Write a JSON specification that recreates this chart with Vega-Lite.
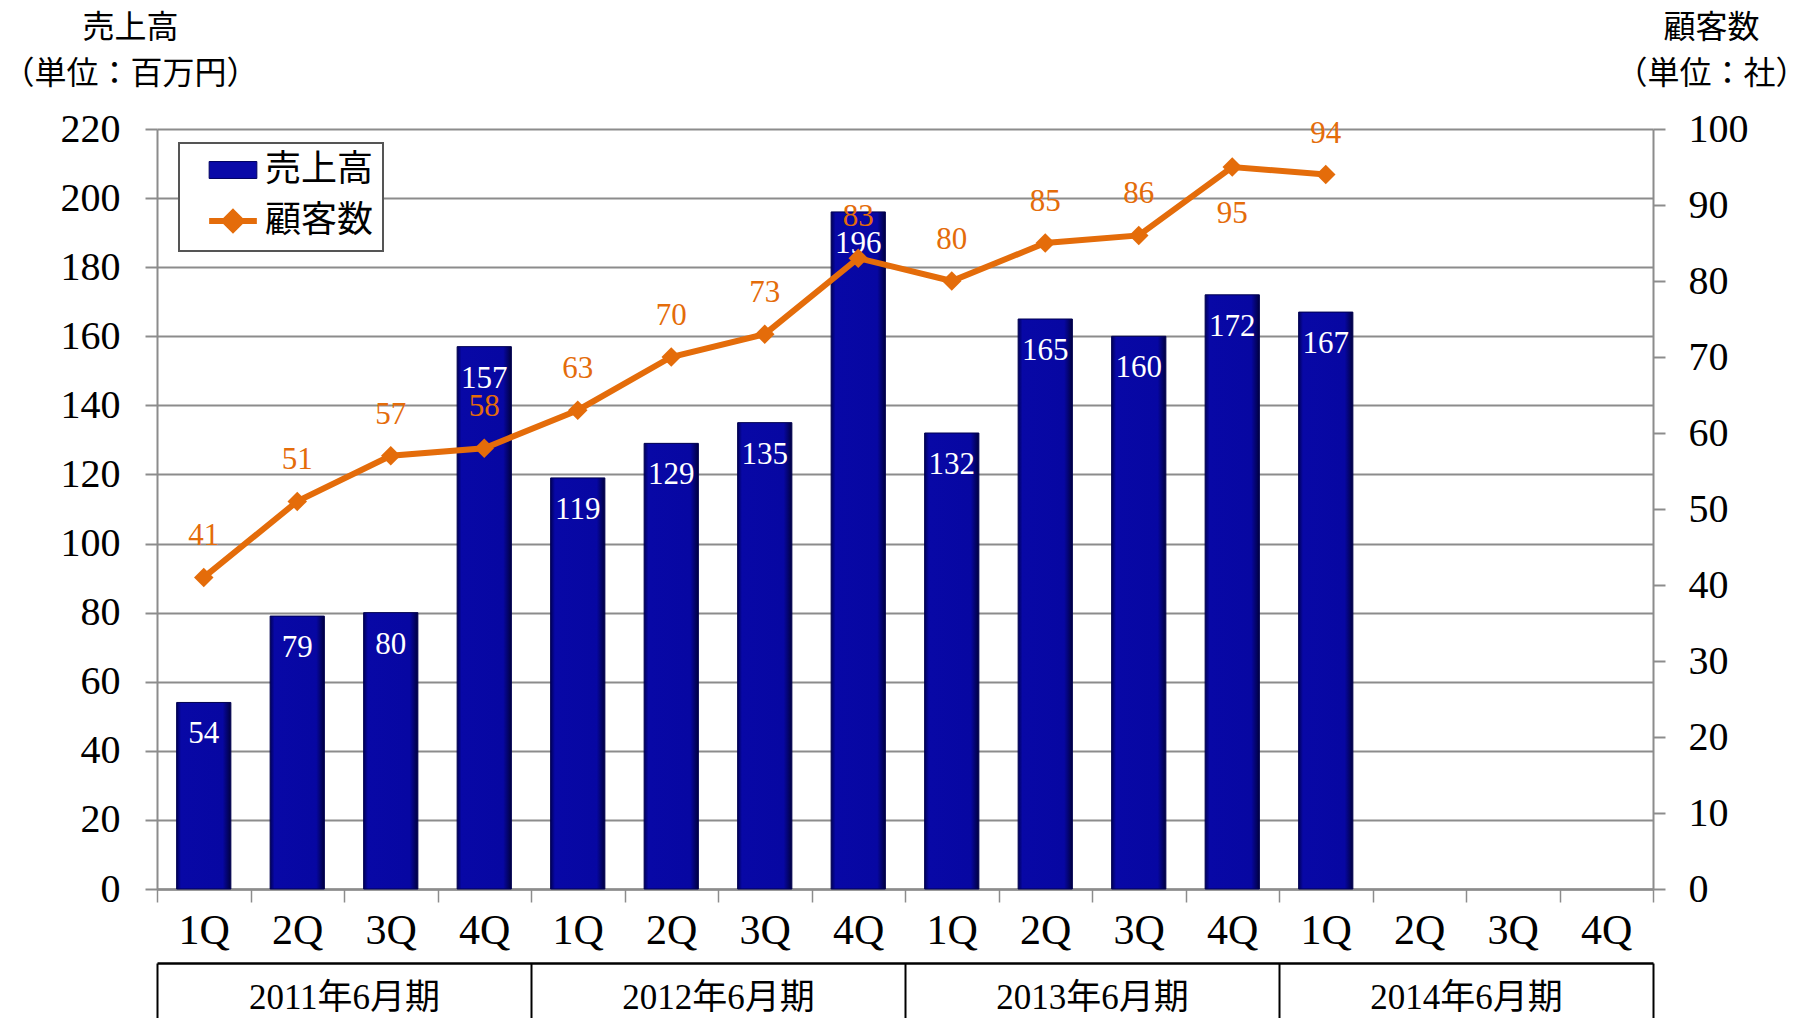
{
  "$schema": "https://vega.github.io/schema/vega-lite/v6.json",
  "width": 1496,
  "height": 760,
  "autosize": "none",
  "padding": {"left": 157, "top": 129, "right": 155, "bottom": 129},
  "background": "white",
  "config": {
    "view": {"stroke": null},
    "font": "Liberation Serif, Noto Sans CJK JP",
    "axis": {"labelFont": "Liberation Serif, Noto Sans CJK JP", "titleFont": "Liberation Serif, Noto Sans CJK JP"}
  },
  "data": {
    "values": [
      {"key": "2011-1Q", "period": "2011年6月期", "q": "1Q", "sales": 54, "customers": 41},
      {"key": "2011-2Q", "period": "2011年6月期", "q": "2Q", "sales": 79, "customers": 51},
      {"key": "2011-3Q", "period": "2011年6月期", "q": "3Q", "sales": 80, "customers": 57},
      {"key": "2011-4Q", "period": "2011年6月期", "q": "4Q", "sales": 157, "customers": 58},
      {"key": "2012-1Q", "period": "2012年6月期", "q": "1Q", "sales": 119, "customers": 63},
      {"key": "2012-2Q", "period": "2012年6月期", "q": "2Q", "sales": 129, "customers": 70},
      {"key": "2012-3Q", "period": "2012年6月期", "q": "3Q", "sales": 135, "customers": 73},
      {"key": "2012-4Q", "period": "2012年6月期", "q": "4Q", "sales": 196, "customers": 83},
      {"key": "2013-1Q", "period": "2013年6月期", "q": "1Q", "sales": 132, "customers": 80},
      {"key": "2013-2Q", "period": "2013年6月期", "q": "2Q", "sales": 165, "customers": 85},
      {"key": "2013-3Q", "period": "2013年6月期", "q": "3Q", "sales": 160, "customers": 86},
      {"key": "2013-4Q", "period": "2013年6月期", "q": "4Q", "sales": 172, "customers": 95},
      {"key": "2014-1Q", "period": "2014年6月期", "q": "1Q", "sales": 167, "customers": 94},
      {"key": "2014-2Q", "period": "2014年6月期", "q": "2Q", "sales": null, "customers": null},
      {"key": "2014-3Q", "period": "2014年6月期", "q": "3Q", "sales": null, "customers": null},
      {"key": "2014-4Q", "period": "2014年6月期", "q": "4Q", "sales": null, "customers": null}
    ]
  },
  "layer": [
    {
      "encoding": {
        "x": {
          "field": "key",
          "type": "nominal",
          "scale": {
            "type": "band",
            "domain": ["2011-1Q","2011-2Q","2011-3Q","2011-4Q","2012-1Q","2012-2Q","2012-3Q","2012-4Q","2013-1Q","2013-2Q","2013-3Q","2013-4Q","2014-1Q","2014-2Q","2014-3Q","2014-4Q"],
            "paddingInner": 0,
            "paddingOuter": 0
          },
          "axis": {
            "title": null,
            "labelExpr": "datum.value ? substring(datum.value, 5) : ''",
            "labelAngle": 0,
            "labelFontSize": 42,
            "labelColor": "black",
            "labelPadding": 8,
            "domainColor": "#8c8c8c",
            "domainWidth": 2.5,
            "tickColor": "#8c8c8c",
            "tickWidth": 1.5,
            "tickSize": 13,
            "tickBand": "extent",
            "grid": false
          }
        }
      },
      "layer": [
        {
          "encoding": {
            "y": {
              "field": "sales",
              "type": "quantitative",
              "scale": {"domain": [0, 220], "nice": false},
              "axis": {
                "orient": "left",
                "values": [0,20,40,60,80,100,120,140,160,180,200,220],
                "labelFontSize": 40,
                "labelColor": "black",
                "labelPadding": 25,
                "domainColor": "#8c8c8c",
                "domainWidth": 2,
                "tickColor": "#8c8c8c",
                "tickWidth": 2,
                "tickSize": 12,
                "grid": true,
                "gridColor": "#8c8c8c",
                "gridWidth": 2,
                "title": ["売上高", "（単位：百万円）"],
                "titleAngle": 0,
                "titleAlign": "center",
                "titleBaseline": "top",
                "titleX": -27,
                "titleY": -117,
                "titleFontSize": 32,
                "titleFontWeight": "normal",
                "titleColor": "black",
                "titleLineHeight": 46
              }
            }
          },
          "layer": [
            {
              "mark": {
                "type": "bar",
                "width": {"band": 0.58},
                "color": {
                  "gradient": "linear",
                  "x1": 0, "y1": 0, "x2": 1, "y2": 0,
                  "stops": [
                    {"offset": 0, "color": "#00005a"},
                    {"offset": 0.08, "color": "#0808a6"},
                    {"offset": 0.85, "color": "#0707a2"},
                    {"offset": 1, "color": "#000040"}
                  ]
                },
                "stroke": "#000050",
                "strokeWidth": 1
              }
            },
            {
              "mark": {"type": "text", "color": "white", "fontSize": 31, "baseline": "middle", "dy": 32},
              "encoding": {"text": {"field": "sales", "type": "quantitative"}}
            }
          ]
        },
        {
          "encoding": {
            "y": {
              "field": "customers",
              "type": "quantitative",
              "scale": {"domain": [0, 100], "nice": false},
              "axis": {
                "orient": "right",
                "values": [0,10,20,30,40,50,60,70,80,90,100],
                "labelFontSize": 40,
                "labelColor": "black",
                "labelPadding": 23,
                "domainColor": "#8c8c8c",
                "domainWidth": 2,
                "tickColor": "#8c8c8c",
                "tickWidth": 2,
                "tickSize": 12,
                "grid": false,
                "title": ["顧客数", "（単位：社）"],
                "titleAngle": 0,
                "titleAlign": "center",
                "titleBaseline": "top",
                "titleX": 58,
                "titleY": -117,
                "titleFontSize": 32,
                "titleFontWeight": "normal",
                "titleColor": "black",
                "titleLineHeight": 46
              }
            }
          },
          "layer": [
            {
              "mark": {"type": "line", "color": "#e46c0a", "strokeWidth": 6}
            },
            {
              "mark": {"type": "point", "shape": "diamond", "filled": true, "size": 380, "color": "#e46c0a", "opacity": 1}
            },
            {
              "transform": [{"filter": "datum.key !== '2013-4Q'"}],
              "mark": {"type": "text", "color": "#e46c0a", "fontSize": 31, "baseline": "middle", "dy": -41},
              "encoding": {"text": {"field": "customers", "type": "quantitative"}}
            },
            {
              "transform": [{"filter": "datum.key === '2013-4Q'"}],
              "mark": {"type": "text", "color": "#e46c0a", "fontSize": 31, "baseline": "middle", "dy": 47},
              "encoding": {"text": {"field": "customers", "type": "quantitative"}}
            }
          ]
        }
      ],
      "resolve": {"scale": {"y": "independent"}}
    },
    {
      "mark": {"type": "text", "text": ""},
      "encoding": {
        "x": {
          "field": "period",
          "type": "nominal",
          "sort": null,
          "scale": {"type": "band", "paddingInner": 0, "paddingOuter": 0},
          "axis": {
            "title": null,
            "orient": "bottom",
            "offset": 74,
            "labelAngle": 0,
            "labelFontSize": 35,
            "labelLimit": 400,
            "labelColor": "black",
            "labelPadding": -43,
            "domainColor": "black",
            "domainWidth": 2.5,
            "tickColor": "black",
            "tickWidth": 2,
            "tickSize": 60,
            "tickBand": "extent",
            "grid": false
          }
        },
        "color": {
          "datum": "売上高",
          "type": "nominal",
          "scale": {"domain": ["売上高", "顧客数"], "range": ["#0a0aa8", "#e46c0a"]},
          "legend": {
            "title": null,
            "orient": "none",
            "legendX": 22,
            "legendY": 14,
            "strokeColor": "#555555",
            "fillColor": "white",
            "padding": 9,
            "symbolSize": 2809,
            "symbolOffset": 27,
            "labelFont": "Noto Sans CJK JP",
            "labelFontSize": 36,
            "labelColor": "black",
            "labelOffset": 14,
            "rowPadding": 12,
            "encode": {
              "legend": {"update": {"strokeWidth": {"value": 2}}},
              "symbols": {
                "update": {
                  "size": {"value": 2809},
                  "shape": {"signal": "datum.value === '売上高' ? 'M-0.9,-0.32H0.9V0.32H-0.9Z' : 'M-0.9,0H0.9M0,-0.32L0.32,0L0,0.32L-0.32,0Z'"},
                  "fill": {"signal": "datum.value === '売上高' ? '#0a0aa8' : '#e46c0a'"},
                  "stroke": {"signal": "datum.value === '売上高' ? '#000060' : '#e46c0a'"},
                  "strokeWidth": {"signal": "datum.value === '売上高' ? 1 : 6"},
                  "opacity": {"value": 1},
                  "fillOpacity": {"value": 1},
                  "strokeOpacity": {"value": 1}
                }
              }
            }
          }
        }
      }
    }
  ],
  "resolve": {"scale": {"x": "independent"}}
}
